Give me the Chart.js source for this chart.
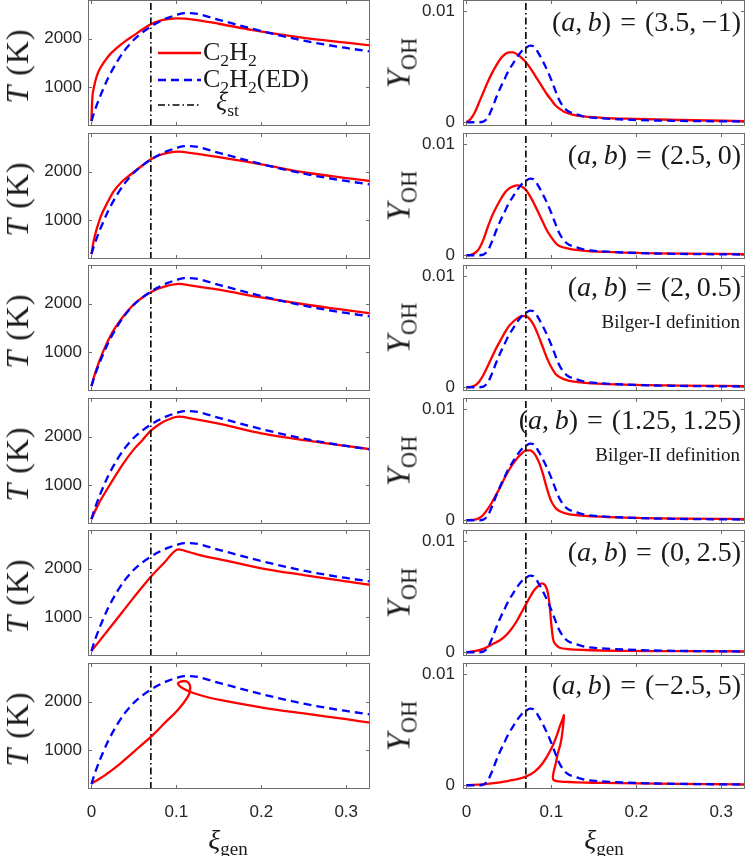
<!DOCTYPE html>
<html>
<head>
<meta charset="utf-8">
<script src="https://cdn.jsdelivr.net/npm/chart.js@4.4.0/dist/chart.umd.min.js"></script>
<style>
  body { margin: 0; background: #fff; width: 747px; height: 856px; position: relative; overflow: hidden; }
  .panel { position: absolute; }
  .panel canvas { display: block; }
  .lab { position: absolute; white-space: nowrap; color: #1a1a1a; font-family: "Liberation Serif", "DejaVu Serif", serif; line-height: 1; }
  .lab sub { font-size: 0.68em; vertical-align: -0.32em; line-height: 0; }
  .rot { transform: translate(-50%, -50%) rotate(-90deg); }
  .cen { transform: translate(-50%, -50%); }
</style>
</head>
<body>
<div id="figure"></div>

<script>
// ---- data ----
const xTicks = [0, 0.1, 0.2, 0.3];
const tTicks = [1000, 2000];
const yohTicks = [0, 0.01];
const xiSt = 0.07;

const caseA = [3.5, 2.5, 2, 1.25, 0, -2.5];
const caseB = [-1, 0, 0.5, 1.25, 2.5, 5];
const caseNote = ['', '', 'Bilger-I definition', 'Bilger-II definition', '', ''];

// temperature, equilibrium-diffusion reference (same in every row)
const T_ED = [[0,300],[0.004,520],[0.01,800],[0.02,1200],[0.03,1520],[0.04,1780],[0.05,1980],[0.06,2130],
  [0.07,2250],[0.08,2350],[0.09,2430],[0.1,2490],[0.11,2530],[0.12,2525],[0.15,2390],[0.2,2160],
  [0.25,1960],[0.3,1810],[0.33,1735]];

// temperature, C2H2 for each (a,b)
const T_1 = [[0,300],[0.001,750],[0.003,1000],[0.0063,1230],[0.01,1380],[0.02,1640],[0.03,1810],[0.04,1950],
  [0.05,2070],[0.06,2190],[0.07,2300],[0.08,2370],[0.09,2405],[0.1,2420],[0.11,2415],[0.13,2370],
  [0.15,2310],[0.19,2180],[0.25,2020],[0.3,1920],[0.33,1860]];
const T_2 = [[0,300],[0.003,600],[0.0102,1040],[0.02,1400],[0.026,1589],[0.035,1780],[0.0455,1933],[0.06,2130],
  [0.07,2257],[0.08,2340],[0.09,2390],[0.1025,2415],[0.12,2380],[0.15,2300],[0.2,2154],[0.25,1990],
  [0.3,1870],[0.33,1805]];
const T_3 = [[0,300],[0.005,600],[0.014,1022],[0.025,1420],[0.0377,1744],[0.05,1990],[0.06,2130],[0.07,2239],
  [0.08,2320],[0.09,2375],[0.1025,2412],[0.12,2370],[0.15,2290],[0.2,2130],[0.25,1990],[0.3,1870],[0.33,1795]];
const T_4 = [[0,300],[0.008,600],[0.018,902],[0.0377,1452],[0.05,1740],[0.06,1930],[0.07,2126],[0.08,2260],
  [0.09,2350],[0.1025,2415],[0.12,2370],[0.15,2270],[0.2,2072],[0.25,1930],[0.3,1810],[0.33,1740]];
const T_5 = [[0,300],[0.026,875],[0.05,1410],[0.07,1837],[0.085,2110],[0.1025,2402],[0.11,2370],[0.13,2270],
  [0.15,2200],[0.2,2010],[0.25,1870],[0.3,1740],[0.33,1665]];
const T_6 = [[0,310],[0.01,415],[0.0196,531],[0.03,665],[0.0393,805],[0.055,1046],[0.0706,1287],[0.0863,1562],
  [0.102,1837],[0.1138,2113],[0.1162,2250],[0.1158,2350],[0.113,2410],[0.1099,2428],[0.105,2414],
  [0.102,2385],[0.1035,2330],[0.108,2275],[0.1138,2225],[0.1255,2150],[0.1514,2037],[0.2063,1865],
  [0.25,1760],[0.3,1640],[0.33,1565]];

// OH mass fraction, equilibrium-diffusion reference
const YOH_ED = [[0,0],[0.015,0],[0.02,0.00005],[0.025,0.0004],[0.03,0.0012],[0.035,0.0022],[0.04,0.0031],
  [0.045,0.0039],[0.05,0.0047],[0.055,0.0053],[0.06,0.0059],[0.065,0.0064],[0.07,0.0067],[0.075,0.0069],
  [0.08,0.0068],[0.085,0.0062],[0.09,0.0055],[0.095,0.0047],[0.1,0.0038],[0.106,0.0026],[0.11,0.0019],
  [0.118,0.0011],[0.13,0.0007],[0.141,0.00047],[0.16,0.00035],[0.2,0.0002],[0.25,0.00012],[0.33,0.00006]];

// OH mass fraction, C2H2 for each (a,b)
const YOH_1 = [[0,0],[0.005,0.0003],[0.01,0.0009],[0.015,0.0018],[0.02,0.0027],[0.025,0.0036],[0.03,0.0044],
  [0.035,0.0051],[0.04,0.0057],[0.045,0.0061],[0.05,0.0063],[0.055,0.0063],[0.06,0.0061],[0.065,0.0058],
  [0.07,0.0054],[0.075,0.0049],[0.08,0.0043],[0.085,0.0037],[0.09,0.0031],[0.095,0.0025],[0.1,0.002],
  [0.105,0.0015],[0.11,0.0012],[0.115,0.00095],[0.12,0.0008],[0.13,0.0006],[0.14,0.0005],[0.16,0.0004],
  [0.2,0.0003],[0.25,0.0002],[0.33,0.0001]];
const YOH_2 = [[0,0],[0.005,0.00003],[0.01,0.0002],[0.015,0.0006],[0.02,0.0014],[0.025,0.0025],[0.03,0.0035],
  [0.035,0.0043],[0.04,0.005],[0.045,0.0056],[0.05,0.006],[0.055,0.0062],[0.06,0.0063],[0.065,0.0062],
  [0.07,0.0059],[0.075,0.0053],[0.08,0.0046],[0.085,0.0038],[0.09,0.003],[0.095,0.0022],[0.1,0.0016],
  [0.105,0.0011],[0.11,0.0008],[0.12,0.0006],[0.14,0.0004],[0.18,0.00026],[0.25,0.00015],[0.33,0.0001]];
const YOH_3 = [[0,0],[0.005,0.00003],[0.01,0.00015],[0.015,0.0005],[0.02,0.0011],[0.025,0.0019],[0.03,0.0027],
  [0.035,0.0035],[0.04,0.0042],[0.045,0.0049],[0.05,0.0055],[0.055,0.0059],[0.06,0.0062],[0.065,0.0064],
  [0.07,0.0064],[0.075,0.0061],[0.08,0.0055],[0.085,0.0046],[0.09,0.0036],[0.095,0.0026],[0.1,0.0018],
  [0.105,0.0012],[0.11,0.0009],[0.12,0.0006],[0.14,0.0004],[0.18,0.00025],[0.25,0.00015],[0.33,0.0001]];
const YOH_4 = [[0,0],[0.01,0.00005],[0.015,0.0002],[0.02,0.0005],[0.025,0.001],[0.03,0.0016],[0.035,0.0023],
  [0.04,0.003],[0.045,0.0038],[0.05,0.0045],[0.055,0.0051],[0.06,0.0056],[0.065,0.006],[0.07,0.0063],
  [0.075,0.0063],[0.08,0.006],[0.085,0.0053],[0.09,0.0042],[0.095,0.0028],[0.1,0.0017],[0.105,0.0011],
  [0.11,0.0008],[0.12,0.00055],[0.14,0.0004],[0.18,0.00026],[0.25,0.00015],[0.33,0.0001]];
const YOH_5 = [[0,0],[0.01,0.0001],[0.02,0.0003],[0.03,0.0007],[0.04,0.0011],[0.045,0.0014],[0.05,0.0018],
  [0.055,0.0023],[0.06,0.0029],[0.065,0.0036],[0.07,0.0043],[0.075,0.005],[0.08,0.0056],[0.085,0.006],
  [0.089,0.0062],[0.093,0.006],[0.096,0.0053],[0.098,0.0042],[0.1,0.0025],[0.102,0.0012],[0.105,0.0007],
  [0.11,0.0004],[0.12,0.00028],[0.14,0.0002],[0.18,0.00013],[0.25,0.0001],[0.33,0.00008]];
const YOH_6 = [[0,0],[0.02,0.00008],[0.04,0.00025],[0.05,0.0004],[0.06,0.00055],[0.07,0.00077],[0.08,0.0012],
  [0.09,0.002],[0.1,0.0033],[0.106,0.0044],[0.11,0.0053],[0.1135,0.006],[0.1148,0.0063],[0.1143,0.0057],
  [0.1132,0.0049],[0.111,0.0038],[0.1078,0.0029],[0.105,0.0019],[0.1025,0.0011],[0.1018,0.0007],
  [0.1025,0.00048],[0.106,0.00038],[0.112,0.00032],[0.12,0.00029],[0.14,0.00024],[0.16,0.00021],
  [0.2,0.00017],[0.25,0.00012],[0.33,0.00008]];

const T_C2H2 = [T_1, T_2, T_3, T_4, T_5, T_6];
const YOH_C2H2 = [YOH_1, YOH_2, YOH_3, YOH_4, YOH_5, YOH_6];

// ---- layout ----
const xRange = [-0.004, 0.328];
const tRange = [200, 2800];
const yohRange = [-0.00034, 0.01101];
const rowTop = [0, 133, 265, 398, 530, 663];
const plotH = 126;
const figH = 856;

const RED = '#ff0000', BLUE = '#0000ff';
const tickFont = { family: '"Liberation Sans", Arial, sans-serif', size: 17 };
const toXY = pts => pts.map(p => ({ x: p[0], y: p[1] }));
const fmtNum = v => (v < 0 ? '\u2212' + Math.abs(v) : String(v));

// box round the axes plus inward ticks on all four sides (MATLAB look)
const framePlugin = {
  id: 'frame',
  afterDatasetsDraw(chart, args, opts) {
    const { ctx, chartArea: a, scales: { x, y } } = chart;
    const len = 4;
    ctx.save();
    ctx.strokeStyle = '#6e6e6e';
    ctx.lineWidth = 1;
    ctx.strokeRect(a.left + 0.5, a.top + 0.5, a.width - 1, a.height - 1);
    ctx.beginPath();
    xTicks.forEach(v => {
      const px = Math.round(x.getPixelForValue(v)) + 0.5;
      ctx.moveTo(px, a.bottom); ctx.lineTo(px, a.bottom - len);
      ctx.moveTo(px, a.top); ctx.lineTo(px, a.top + len);
    });
    opts.yTicks.forEach(v => {
      const py = Math.round(y.getPixelForValue(v)) + 0.5;
      ctx.moveTo(a.left, py); ctx.lineTo(a.left + len, py);
      ctx.moveTo(a.right, py); ctx.lineTo(a.right - len, py);
    });
    ctx.stroke();
    ctx.restore();
  }
};

function addLabel(html, style, cls) {
  const d = document.createElement('div');
  d.className = 'lab' + (cls ? ' ' + cls : '');
  d.innerHTML = html;
  Object.assign(d.style, style);
  document.getElementById('figure').appendChild(d);
  return d;
}

function makePanel(col, row, red, blue, yRange, yTicks, yFmt) {
  const last = row === rowTop.length - 1;
  const left = col === 0 ? 0 : 375;
  const width = col === 0 ? 375 : 372;
  const padTop = 3;
  const top = rowTop[row] - padTop;
  const height = last ? figH - top : plotH + padTop + 3;

  const wrap = document.createElement('div');
  wrap.className = 'panel';
  Object.assign(wrap.style, { left: left + 'px', top: top + 'px', width: width + 'px', height: height + 'px' });
  const canvas = document.createElement('canvas');
  canvas.width = width;
  canvas.height = height;
  wrap.appendChild(canvas);
  document.getElementById('figure').appendChild(wrap);

  // the last row doubles back in x, so plain bezier smoothing there
  const monotone = red.every((p, i) => i === 0 || p[0] >= red[i - 1][0]);

  new Chart(canvas, {
    type: 'line',
    data: {
      datasets: [
        {
          label: 'xi_st',
          data: [{ x: xiSt, y: yRange[0] }, { x: xiSt, y: yRange[1] }],
          borderColor: '#000',
          borderWidth: 1.6,
          borderDash: [7, 3, 1.5, 3],
          pointRadius: 0,
        },
        {
          label: 'C2H2(ED)',
          data: toXY(blue),
          borderColor: BLUE,
          borderWidth: 2.3,
          borderDash: [8, 5],
          pointRadius: 0,
          cubicInterpolationMode: 'monotone',
        },
        {
          label: 'C2H2',
          data: toXY(red),
          borderColor: RED,
          borderWidth: 2.3,
          pointRadius: 0,
          cubicInterpolationMode: monotone ? 'monotone' : 'default',
          tension: monotone ? 0 : 0.4,
        },
      ],
    },
    options: {
      responsive: false,
      animation: false,
      events: [],
      layout: { padding: { top: padTop, right: col === 0 ? 5 : 2, bottom: last ? 0 : 3, left: 0 } },
      plugins: {
        legend: { display: false },
        tooltip: { enabled: false },
        frame: { yTicks },
      },
      scales: {
        x: {
          type: 'linear',
          min: xRange[0],
          max: xRange[1],
          grid: { display: false, drawTicks: false },
          border: { display: false },
          afterBuildTicks: s => { s.ticks = xTicks.map(v => ({ value: v })); },
          afterFit: s => {
            s.height = last ? figH - (rowTop[row] + plotH) : 0;
            s.paddingLeft = 0; s.paddingRight = 0;
          },
          ticks: {
            display: last,
            padding: 13,
            color: '#262626',
            font: tickFont,
            maxRotation: 0,
            callback: v => (v === 0 ? '0' : v.toFixed(1)),
          },
        },
        y: {
          type: 'linear',
          min: yRange[0],
          max: yRange[1],
          grid: { display: false, drawTicks: false },
          border: { display: false },
          afterBuildTicks: s => { s.ticks = yTicks.map(v => ({ value: v })); },
          afterFit: s => {
            s.width = 88;
            s.paddingTop = 0; s.paddingBottom = 0;
          },
          ticks: {
            padding: col === 0 ? 6 : 8,
            color: '#262626',
            font: tickFont,
            callback: yFmt,
          },
        },
      },
    },
    plugins: [framePlugin],
  });
}

rowTop.forEach((t, r) => {
  makePanel(0, r, T_C2H2[r], T_ED, tRange, tTicks, v => String(v));
  makePanel(1, r, YOH_C2H2[r], YOH_ED, yohRange, yohTicks, v => (v === 0 ? '0' : '0.01'));

  // axis titles
  addLabel('<i>T</i> (K)', { left: '17px', top: (t + 66) + 'px', fontSize: '32px', letterSpacing: '1px' }, 'rot');
  addLabel('<i>Y</i><sub>OH</sub>', { left: '399px', top: (t + 63) + 'px', fontSize: '33px' }, 'rot');

  // case annotation
  addLabel('(<i>a</i>,&thinsp;<i>b</i>)&nbsp;=&nbsp;(' + fmtNum(caseA[r]) + ',&thinsp;' + fmtNum(caseB[r]) + ')',
    { right: '6px', top: (t + 8) + 'px', fontSize: '28px', wordSpacing: '2px' });
  if (caseNote[r]) {
    addLabel(caseNote[r], { right: '7px', top: (t + 47) + 'px', fontSize: '19px' });
  }
});

// x-axis titles
addLabel('<i>\u03be</i><sub>gen</sub>', { left: '228px', top: '840px', fontSize: '28px' }, 'cen');
addLabel('<i>\u03be</i><sub>gen</sub>', { left: '604px', top: '840px', fontSize: '28px' }, 'cen');

// legend (html, inside the first temperature panel)
const legendRows = [
  { y: 53, color: RED, dash: '', text: 'C<sub>2</sub>H<sub>2</sub>', tx: 203 },
  { y: 80, color: BLUE, dash: '8 5', text: 'C<sub>2</sub>H<sub>2</sub>(ED)', tx: 203 },
  { y: 105, color: '#000', dash: '7 3 1.5 3', text: '<i>\u03be</i><sub>st</sub>', tx: 216 },
];
legendRows.forEach(l => {
  const svg = document.createElementNS('http://www.w3.org/2000/svg', 'svg');
  svg.setAttribute('width', '44');
  svg.setAttribute('height', '8');
  Object.assign(svg.style, { position: 'absolute', left: '158px', top: (l.y - 4) + 'px' });
  const line = document.createElementNS('http://www.w3.org/2000/svg', 'line');
  line.setAttribute('x1', '0'); line.setAttribute('x2', '43');
  line.setAttribute('y1', '4'); line.setAttribute('y2', '4');
  line.setAttribute('stroke', l.color);
  line.setAttribute('stroke-width', l.color === '#000' ? '1.6' : '2.3');
  if (l.dash) line.setAttribute('stroke-dasharray', l.dash);
  svg.appendChild(line);
  document.getElementById('figure').appendChild(svg);
  const dy = l.color === '#000' ? 16 : 14;
  addLabel(l.text, { left: l.tx + 'px', top: (l.y - dy) + 'px', fontSize: '26px' });
});
</script>
</body>
</html>
